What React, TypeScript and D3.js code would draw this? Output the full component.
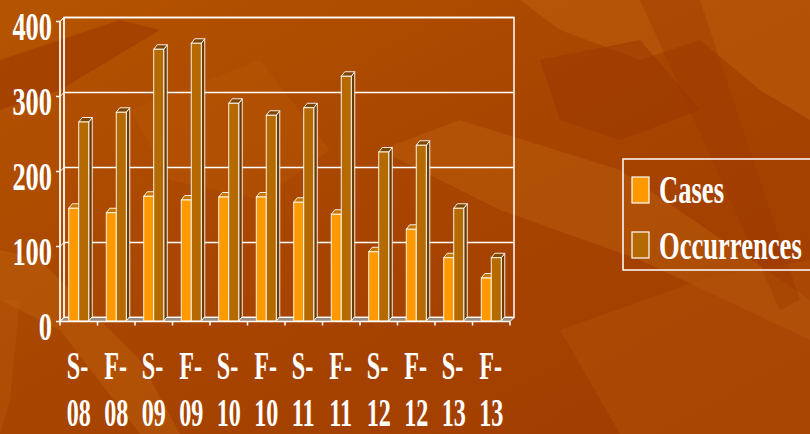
import React from "react";
import * as d3 from "d3";

const categories = ["S-08", "F-08", "S-09", "F-09", "S-10", "F-10", "S-11", "F-11", "S-12", "F-12", "S-13", "F-13"];
const seriesNames = ["Cases", "Occurrences"];
const cases = [151, 145, 167, 162, 166, 166, 159, 143, 93, 123, 85, 58];
const occurrences = [266, 279, 363, 371, 291, 275, 285, 327, 226, 235, 151, 85];
const yTicks = [0, 100, 200, 300, 400];

const W = 810;
const H = 434;
const FRONT_LEFT = 60;
const FRONT_RIGHT = 510;
const Y0 = 321.5;
const Y400 = 21.5;
const DX = 4; // wall depth
const DY = -4;
const BDX = 3.5; // bar depth
const BDY = -4.5;

const faceColors: Record<string, { front: string; top: string; side: string }> = {
  Cases: { front: "#FF9900", top: "#C87400", side: "#A65A00" },
  Occurrences: { front: "#B56A00", top: "#7E4600", side: "#6A3A00" },
};

const FONT = "'Liberation Serif', 'Times New Roman', serif";

export default function App() {
  const x = d3.scaleBand<string>().domain(categories).range([FRONT_LEFT, FRONT_RIGHT]).paddingInner(0).paddingOuter(0);
  const xi = d3.scaleBand<string>().domain(seriesNames).range([0, x.step()]).paddingInner(0).paddingOuter(0.875);
  const y = d3.scaleLinear().domain([0, 400]).range([Y0, Y400]);

  const values: Record<string, number[]> = { Cases: cases, Occurrences: occurrences };

  const bars: React.ReactNode[] = [];
  categories.forEach((c, i) => {
    seriesNames.forEach((s) => {
      const v = values[s][i];
      const x0 = (x(c) as number) + (xi(s) as number);
      const w = xi.bandwidth();
      const yt = y(v);
      const yb = y(0) - 0.5;
      const col = faceColors[s];
      const side = `M${x0 + w},${yt} L${x0 + w + BDX},${yt + BDY} L${x0 + w + BDX},${yb + BDY} L${x0 + w},${yb} Z`;
      const top = `M${x0},${yt} L${x0 + BDX},${yt + BDY} L${x0 + w + BDX},${yt + BDY} L${x0 + w},${yt} Z`;
      bars.push(
        <g key={c + s}>
          <path d={side} fill={col.side} stroke="#FFFFFF" strokeWidth={0.9} strokeLinejoin="round" />
          <path d={top} fill={col.top} stroke="#FFFFFF" strokeWidth={0.9} strokeLinejoin="round" />
          <rect x={x0} y={yt} width={w} height={yb - yt} fill={col.front} stroke="#FFFFFF" strokeWidth={0.9} />
        </g>
      );
    });
  });

  const legendItems = [
    { name: "Cases", color: faceColors.Cases.front, y: 177, ty: 203 },
    { name: "Occurrences", color: faceColors.Occurrences.front, y: 232, ty: 258.5 },
  ];

  return (
    <svg width={W} height={H} style={{ position: "absolute", left: 0, top: 0, display: "block" }}>
      <defs>
        <linearGradient id="bg" x1="0" y1="0" x2="1" y2="1">
          <stop offset="0" stopColor="#B55400" />
          <stop offset="0.45" stopColor="#A84500" />
          <stop offset="1" stopColor="#A03C00" />
        </linearGradient>
      </defs>
      <rect x={0} y={0} width={W} height={H} fill="url(#bg)" />
      {/* background leaf texture */}
      <g>
        <path d="M520,0 L810,0 L810,120 L760,90 L700,40 L640,60 L560,30 Z" fill="#C46410" opacity={0.45} />
        <path d="M540,60 L640,40 L700,110 L620,140 L560,120 Z" fill="#9A3600" opacity={0.5} />
        <path d="M380,150 L460,120 L620,170 L810,300 L810,340 L640,260 L500,210 Z" fill="#C46A10" opacity={0.35} />
        <path d="M0,60 L120,20 L160,30 L60,90 L0,110 Z" fill="#9A3600" opacity={0.55} />
        <path d="M0,250 L40,260 L140,360 L180,434 L140,434 L60,330 L0,300 Z" fill="#C46A10" opacity={0.35} />
        <path d="M560,330 L700,280 L810,260 L810,434 L620,434 Z" fill="#B45208" opacity={0.45} />
        <path d="M130,110 L260,60 L330,150 L260,200 L170,180 Z" fill="#BE5C08" opacity={0.3} />
        <path d="M640,0 L700,0 L800,300 L780,310 Z" fill="#9A3600" opacity={0.35} />
        <path d="M20,300 L10,400 L0,434 L0,300 Z" fill="#C06010" opacity={0.3} />
      </g>

      {/* side wall */}
      <path
        d={`M${FRONT_LEFT},${Y400} L${FRONT_LEFT + DX},${Y400 + DY} L${FRONT_LEFT + DX},${Y0 + DY} L${FRONT_LEFT},${Y0} Z`}
        fill="none"
        stroke="#FFFFFF"
        strokeWidth={1}
      />
      {/* back wall */}
      <rect
        x={FRONT_LEFT + DX}
        y={Y400 + DY}
        width={FRONT_RIGHT - FRONT_LEFT}
        height={Y0 - Y400}
        fill="none"
        stroke="#FFFFFF"
        strokeWidth={1.5}
      />
      {/* gridlines */}
      {yTicks.map((t) => (
        <g key={"g" + t}>
          <line x1={FRONT_LEFT + DX} x2={FRONT_RIGHT + DX} y1={y(t) + DY} y2={y(t) + DY} stroke="#FFFFFF" strokeWidth={1.5} />
          <line x1={FRONT_LEFT} x2={FRONT_LEFT + DX} y1={y(t)} y2={y(t) + DY} stroke="#FFFFFF" strokeWidth={1} />
        </g>
      ))}
      {/* floor */}
      <path
        d={`M${FRONT_LEFT},${Y0} L${FRONT_LEFT + DX},${Y0 + DY} L${FRONT_RIGHT + DX},${Y0 + DY} L${FRONT_RIGHT},${Y0} Z`}
        fill="#9C8C80"
        stroke="#FFFFFF"
        strokeWidth={1}
      />

      {bars}

      {/* front axes */}
      <line x1={FRONT_LEFT} x2={FRONT_LEFT} y1={Y400} y2={Y0} stroke="#FFFFFF" strokeWidth={1.5} />
      <line x1={FRONT_LEFT} x2={FRONT_RIGHT} y1={Y0} y2={Y0} stroke="#FFFFFF" strokeWidth={1.5} />
      {yTicks.map((t) => (
        <line key={"yt" + t} x1={FRONT_LEFT - 4} x2={FRONT_LEFT} y1={y(t)} y2={y(t)} stroke="#FFFFFF" strokeWidth={1.5} />
      ))}
      {categories.concat(["end"]).map((c, i) => {
        const xx = FRONT_LEFT + i * x.step();
        return <line key={"xt" + i} x1={xx} x2={xx} y1={Y0} y2={Y0 + 4} stroke="#FFFFFF" strokeWidth={1.5} />;
      })}

      {/* y tick labels */}
      {yTicks.map((t) => (
        <text
          key={"yl" + t}
          transform={`translate(52,${y(t) + 18}) scale(0.66,1)`}
          textAnchor="end"
          fontFamily={FONT}
          fontWeight="bold"
          fontSize={40}
          fill="#FFFFFF"
        >
          {t}
        </text>
      ))}

      {/* category labels */}
      {categories.map((c) => {
        const [a, b] = c.split("-");
        const cx = (x(c) as number) + x.step() / 2;
        const left = cx - 12;
        return (
          <g key={"cl" + c}>
            <text transform={`translate(${left},379) scale(0.62,1)`} fontFamily={FONT} fontWeight="bold" fontSize={39} fill="#FFFFFF">
              {a + "-"}
            </text>
            <text transform={`translate(${left},426) scale(0.62,1)`} fontFamily={FONT} fontWeight="bold" fontSize={39} fill="#FFFFFF">
              {b}
            </text>
          </g>
        );
      })}

      {/* legend */}
      <rect x={623} y={159} width={200} height={111} fill="none" stroke="#FFFFFF" strokeWidth={1.5} />
      {legendItems.map((it) => (
        <g key={it.name}>
          <rect x={632} y={it.y} width={17} height={26} fill={it.color} stroke="#FFFFFF" strokeWidth={1.2} />
          <text transform={`translate(659,${it.ty}) scale(0.665,1)`} fontFamily={FONT} fontWeight="bold" fontSize={40} fill="#FFFFFF">
            {it.name}
          </text>
        </g>
      ))}
    </svg>
  );
}
